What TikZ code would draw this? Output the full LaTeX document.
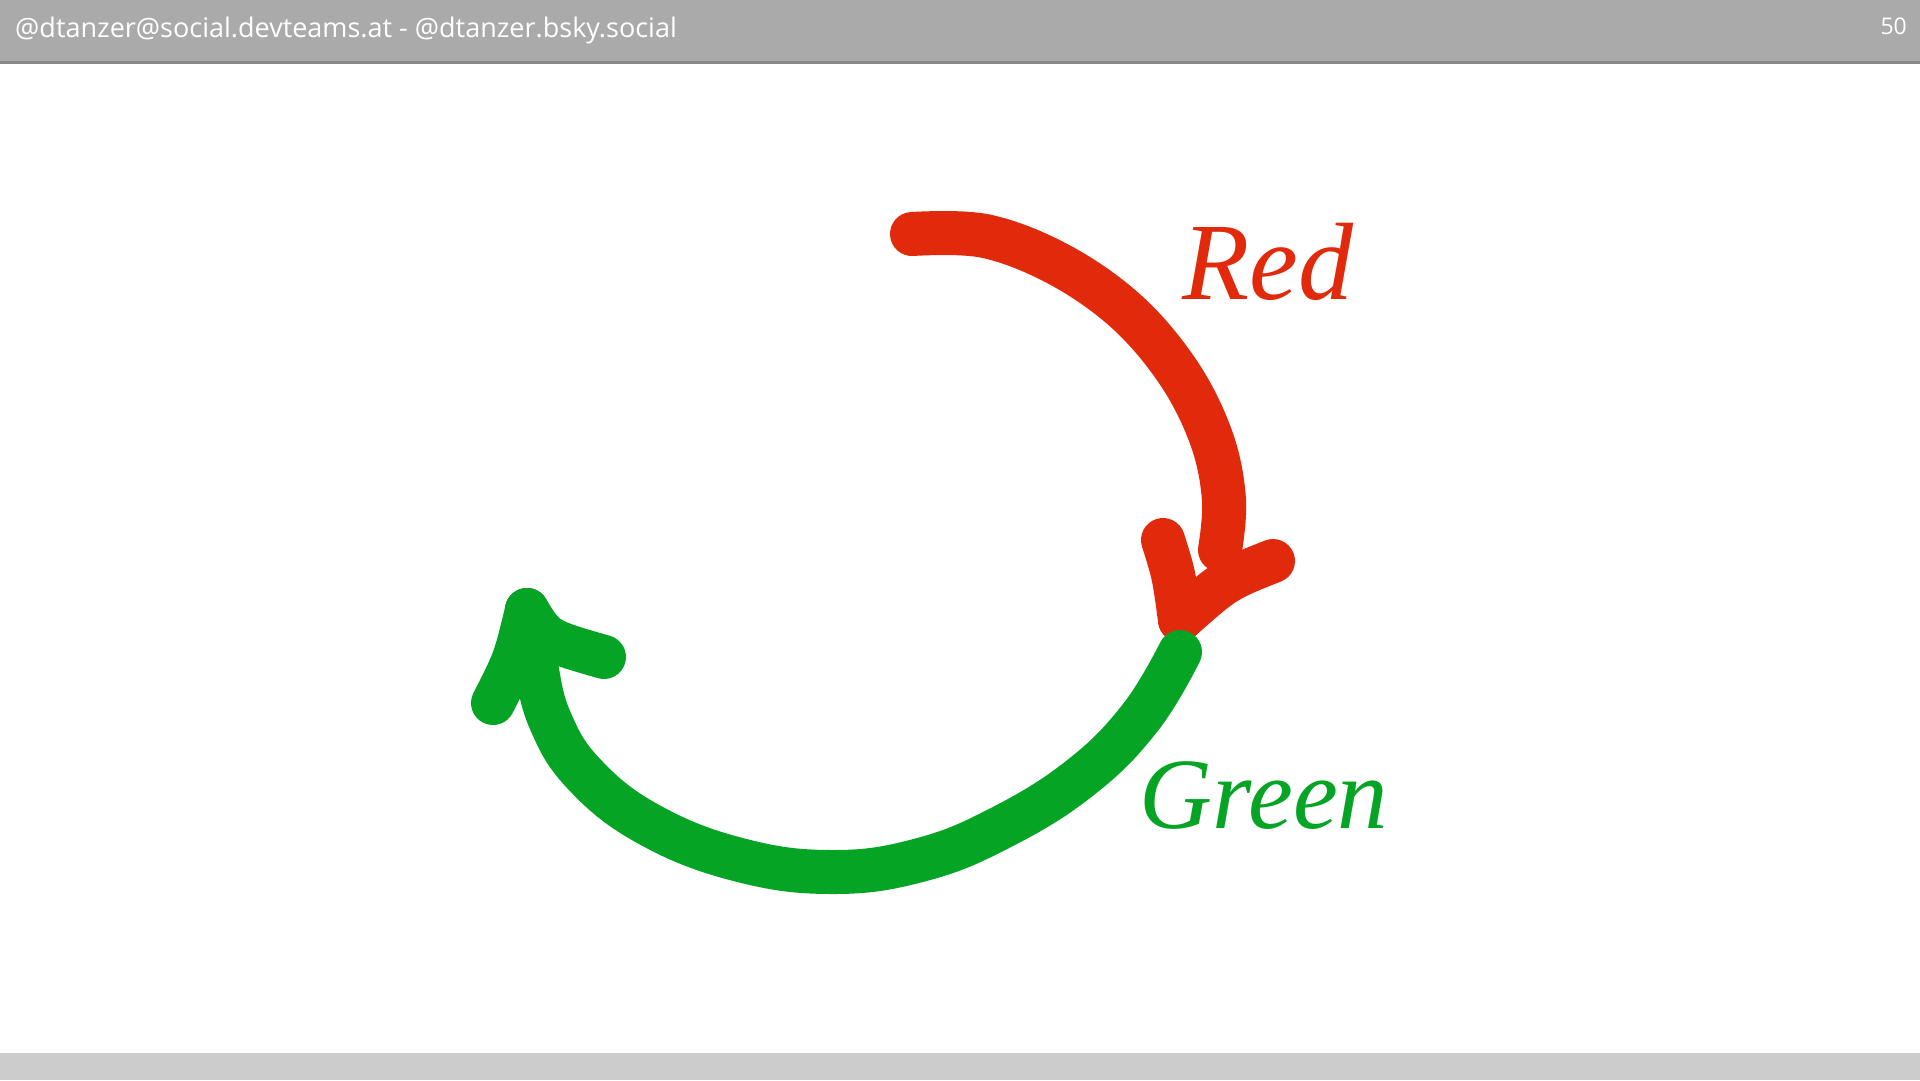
\documentclass[tikz,border=0pt]{standalone}
\usepackage{fontspec}
\setmainfont{Open Sans}
\newfontfamily\hdrfont{Open Sans}
\newfontfamily\handfont{Liberation Serif}
\definecolor{hdrgray}{HTML}{AAAAAA}
\definecolor{hdrline}{HTML}{888888}
\definecolor{footgray}{HTML}{CCCCCC}
\definecolor{penred}{HTML}{E02A0B}
\definecolor{pengreen}{HTML}{05A424}
\tikzset{
  pen/.style={line width=44pt, line cap=round, line join=round},
  hand/.style={font=\handfont\itshape\fontsize{110}{110}\selectfont, anchor=center, inner sep=0pt},
}
\begin{document}
\begin{tikzpicture}[x=1pt,y=-1pt]
\useasboundingbox (0,0) rectangle (1920,1080);
\fill[white] (0,0) rectangle (1920,1080);
% header
\fill[hdrgray] (0,0) rectangle (1920,61);
\fill[hdrline] (0,61) rectangle (1920,64);
\node[anchor=base west, inner sep=0pt, text=white, font=\hdrfont\fontsize{27}{27}\selectfont] (hdr) at (15,37) {@dtanzer@social.devteams.at - @dtanzer.bsky.social};
\node[anchor=base east, inner sep=0pt, text=white, font=\hdrfont\fontsize{23}{23}\selectfont] (pg) at (1907,34) {50};
% footer
\fill[footgray] (0,1053) rectangle (1920,1080);
% red arrow
\draw[pen, penred] plot[smooth, tension=0.6] coordinates {(912,234) (985,236) (1060,265) (1128,313) (1180,375) (1212,440) (1224,500) (1220,550)};
\draw[pen, penred] (1163,540) .. controls (1174,575) .. (1180,620);
\draw[pen, penred] (1273,561) .. controls (1225,580) .. (1180,620);
% green arrow
\draw[pen, pengreen] plot[smooth, tension=0.7] coordinates {(1180,652) (1140,718) (1080,778) (1000,828) (920,860) (833,872) (740,860) (650,825) (585,775) (550,720) (535,660) (527,610)};
\draw[pen, pengreen] (527,610) .. controls (515,660) .. (493,703);
\draw[pen, pengreen] (527,610) .. controls (545,640) .. (604,657);
% labels
\node[hand, text=penred] (red) at (1268,262) {Red};
\node[hand, text=pengreen, font=\handfont\itshape\fontsize{101}{101}\selectfont] (green) at (1264,796) {Green};
\end{tikzpicture}
\end{document}
